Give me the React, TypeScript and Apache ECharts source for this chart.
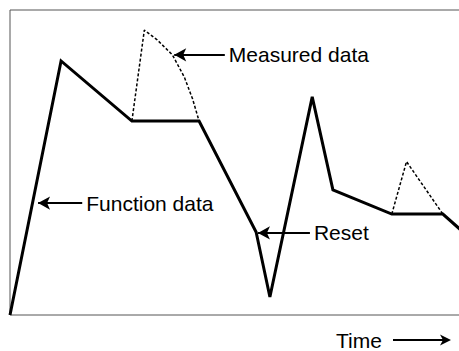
import React, { useEffect, useRef } from "react";
import * as echarts from "echarts";

// Function data (solid line)
const functionTime = [0, 11.1, 26.5, 41.1, 53.5, 56.5, 65.7, 70.2, 83.0, 94.1, 100];
const functionValue = [0, 83.3, 63.6, 63.6, 27.2, 5.9, 71.5, 41.0, 33.1, 33.1, 25.2];

// Measured data (dotted excursions)
const measured1Time = [26.5, 29.2, 32.0, 35.3, 37.9, 39.7, 41.1];
const measured1Value = [63.6, 93.4, 90.2, 85.3, 78.0, 70.8, 63.6];
const measured2Time = [83.0, 86.2, 94.1];
const measured2Value = [33.1, 50.3, 33.1];

// Annotations: arrow tip (time, value) and tail time
const annotationLabels = ["Measured data", "Function data", "Reset"];
const annotationTipTime = [35.7, 6.1, 53.9];
const annotationTipValue = [85.3, 36.7, 26.9];
const annotationTailTime = [46.7, 15.7, 65.2];

const axisName = "Time";

const FONT = "'Liberation Sans', Arial, Helvetica, sans-serif";

const pairs = (xs: number[], ys: number[]) => xs.map((x, i) => [x, ys[i]]);

export default function App() {
  const ref = useRef<HTMLDivElement>(null);

  useEffect(() => {
    if (!ref.current) return;
    const chart = echarts.init(ref.current, undefined, { renderer: "svg" });

    const markData = annotationLabels.map((label, i) => [
      {
        coord: [annotationTipTime[i], annotationTipValue[i]],
        symbol: "arrow",
      },
      {
        coord: [annotationTailTime[i], annotationTipValue[i]],
        symbol: "none",
        label: { formatter: label },
      },
    ]);

    chart.setOption({
      animation: false,
      backgroundColor: "#fff",
      grid: {
        left: 10,
        top: 10,
        width: 460,
        height: 305,
        outerBoundsMode: "none",
        containLabel: false,
        show: true,
        borderColor: "#555",
        borderWidth: 1,
        backgroundColor: "transparent",
      },
      xAxis: {
        type: "value",
        min: 0,
        max: 100,
        axisLine: { show: false },
        axisTick: { show: false },
        axisLabel: { show: false },
        splitLine: { show: false },
      },
      yAxis: {
        type: "value",
        min: 0,
        max: 100,
        axisLine: { show: false },
        axisTick: { show: false },
        axisLabel: { show: false },
        splitLine: { show: false },
      },
      series: [
        {
          name: "Function data",
          type: "line",
          data: pairs(functionTime, functionValue),
          symbol: "none",
          silent: true,
          lineStyle: { color: "#000", width: 3, join: "miter" },
          markLine: {
            silent: true,
            animation: false,
            symbolSize: [10, 12],
            lineStyle: { color: "#000", width: 2, type: "solid" },
            label: {
              show: true,
              position: "end",
              distance: 4,
              color: "#000",
              fontSize: 21,
              fontFamily: FONT,
            },
            emphasis: { disabled: true },
            data: markData,
          },
        },
        {
          name: "Measured data",
          type: "line",
          data: pairs(measured1Time, measured1Value),
          symbol: "none",
          silent: true,
          lineStyle: { color: "#000", width: 1.5, type: [3, 2] },
        },
        {
          name: "Measured data",
          type: "line",
          data: pairs(measured2Time, measured2Value),
          symbol: "none",
          silent: true,
          lineStyle: { color: "#000", width: 1.5, type: [3, 2] },
        },
      ],
      graphic: [
        {
          type: "text",
          x: 336,
          y: 340,
          style: {
            text: axisName,
            fontSize: 21,
            lineHeight: 16,
            fontFamily: FONT,
            fill: "#000",
            align: "left",
            verticalAlign: "middle",
          },
        },
        {
          type: "line",
          shape: { x1: 393, y1: 340, x2: 444, y2: 340 },
          style: { stroke: "#000", lineWidth: 2 },
        },
        {
          type: "polygon",
          shape: {
            points: [
              [451, 340],
              [440, 334.5],
              [443, 340],
              [440, 345.5],
            ],
          },
          style: { fill: "#000" },
        },
      ],
    });

    return () => chart.dispose();
  }, []);

  return (
    <div
      ref={ref}
      style={{ position: "fixed", left: 0, top: 0, width: 459, height: 351 }}
    />
  );
}
